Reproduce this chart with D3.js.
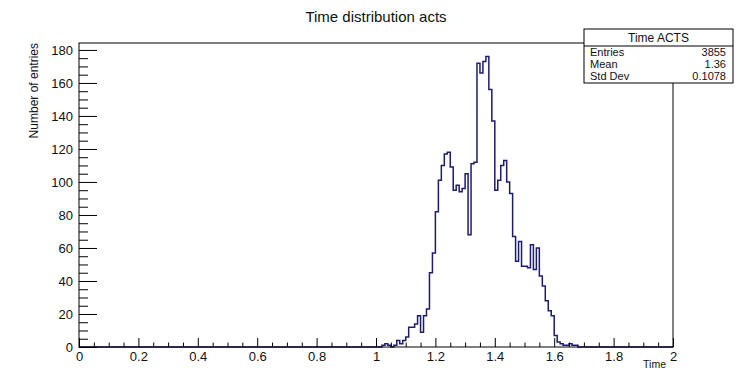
<!DOCTYPE html>
<html>
<head>
<meta charset="utf-8">
<script src="https://cdn.jsdelivr.net/npm/d3@7/dist/d3.min.js"></script>
<style>
  html, body { margin: 0; padding: 0; background: #ffffff; }
  svg { display: block; font-family: "Liberation Sans", Arial, sans-serif; }
</style>
</head>
<body>
<svg id="chart" width="741" height="370"></svg>
<script>
// ---- Data ----
const binStart = 1.00;     // first listed bin low edge
const binWidth = 0.01;
const counts = [0, 0, 1, 2, 1, 0, 1, 4, 2, 4,
                6, 12, 12, 14, 19, 9, 19, 23, 45, 57,
                82, 101, 110, 117, 118, 109, 95, 98, 94, 96,
                105, 68, 111, 112, 172, 166, 173, 176, 156, 137,
                95, 101, 110, 113, 100, 93, 67, 52, 64, 49,
                49, 48, 62, 47, 60, 43, 37, 28, 22, 19,
                7, 3, 2, 1, 1, 2, 1, 1, 0];
const xMajorTicks = [0, 0.2, 0.4, 0.6, 0.8, 1, 1.2, 1.4, 1.6, 1.8, 2];
const xTickLabels = ["0", "0.2", "0.4", "0.6", "0.8", "1", "1.2", "1.4", "1.6", "1.8", "2"];
const yMajorTicks = [0, 20, 40, 60, 80, 100, 120, 140, 160, 180];
const statsLabels = ["Entries", "Mean", "Std Dev"];
const statsValues = ["3855", "1.36", "0.1078"];
const title = "Time distribution acts";
const statsTitle = "Time ACTS";
const xTitle = "Time";
const yTitle = "Number of entries";

// ---- Layout ----
const svg = d3.select("#chart");
const fx0 = 79, fx1 = 673, fy0 = 43, fy1 = 347;
const x = d3.scaleLinear().domain([0, 2]).range([fx0, fx1]);
const y = d3.scaleLinear().domain([0, 184.2]).range([fy1, fy0]);

// histogram step path over full range
const bins = [];
const nb = 200;
for (let i = 0; i < nb; i++) {
  const lo = i * binWidth;
  const k = Math.round((lo - binStart) / binWidth);
  const v = (k >= 0 && k < counts.length) ? counts[k] : 0;
  bins.push({lo: lo, hi: lo + binWidth, v: v});
}
let pts = [[x(0), y(0)]];
bins.forEach(b => { pts.push([x(b.lo), y(b.v)]); pts.push([x(b.hi), y(b.v)]); });
pts.push([x(2), y(0)]);
svg.append("path")
  .attr("d", d3.line()(pts))
  .attr("fill", "none")
  .attr("stroke", "#1c1c6c")
  .attr("stroke-width", 1.5)
  .attr("stroke-linejoin", "miter");

// frame
svg.append("rect")
  .attr("x", fx0).attr("y", fy0)
  .attr("width", fx1 - fx0).attr("height", fy1 - fy0)
  .attr("fill", "none").attr("stroke", "#000").attr("stroke-width", 1);

// y axis
const yMinor = d3.range(0, 184, 5).filter(v => v % 20 !== 0);
const yAxisMajor = d3.axisLeft(y).tickValues(yMajorTicks).tickSizeInner(-18).tickSizeOuter(0).tickPadding(24);
const gy = svg.append("g").attr("transform", `translate(${fx0},0)`).call(yAxisMajor);
gy.select(".domain").remove();
gy.selectAll("text").attr("font-size", 13).attr("fill", "#111").attr("font-family", "Liberation Sans, Arial, sans-serif");
gy.selectAll("line").attr("stroke", "#000");
const gyMinor = svg.append("g").attr("transform", `translate(${fx0},0)`)
  .call(d3.axisLeft(y).tickValues(yMinor).tickSizeInner(-9).tickSizeOuter(0).tickFormat(""));
gyMinor.select(".domain").remove();
gyMinor.selectAll("line").attr("stroke", "#000");
gy.selectAll(".tick text").attr("x", -6);

// x axis
const xMinor = d3.range(0, 2.001, 0.05).filter(v => Math.abs(v / 0.2 - Math.round(v / 0.2)) > 1e-6);
const gx = svg.append("g").attr("transform", `translate(0,${fy1})`)
  .call(d3.axisBottom(x).tickValues(xMajorTicks).tickSizeInner(-9).tickSizeOuter(0)
        .tickFormat((d, i) => xTickLabels[i]));
gx.select(".domain").remove();
gx.selectAll("line").attr("stroke", "#000");
gx.selectAll(".tick text").attr("y", 5).attr("font-size", 13).attr("fill", "#111")
  .attr("font-family", "Liberation Sans, Arial, sans-serif");
const gxMinor = svg.append("g").attr("transform", `translate(0,${fy1})`)
  .call(d3.axisBottom(x).tickValues(xMinor).tickSizeInner(-4.5).tickSizeOuter(0).tickFormat(""));
gxMinor.select(".domain").remove();
gxMinor.selectAll("line").attr("stroke", "#000");

// titles
svg.append("text").attr("x", 376).attr("y", 22).attr("text-anchor", "middle")
  .attr("font-size", 15).attr("fill", "#111").text(title);
svg.append("text").attr("x", fx1 - 7).attr("y", 367.5).attr("text-anchor", "end")
  .attr("font-size", 10.5).attr("fill", "#111").text(xTitle);
svg.append("text").attr("transform", `translate(38,${fy0}) rotate(-90)`)
  .attr("text-anchor", "end").attr("font-size", 12).attr("fill", "#111").text(yTitle);

// stats box
const bx0 = 584, bx1 = 733, by0 = 29, by1 = 83, hdr = 46;
svg.append("rect").attr("x", bx0).attr("y", by0).attr("width", bx1 - bx0).attr("height", by1 - by0)
  .attr("fill", "#fff").attr("stroke", "#000").attr("stroke-width", 1);
svg.append("line").attr("x1", bx0).attr("x2", bx1).attr("y1", hdr).attr("y2", hdr)
  .attr("stroke", "#000");
svg.append("text").attr("x", (bx0 + bx1) / 2).attr("y", 41.5).attr("text-anchor", "middle")
  .attr("font-size", 12).attr("fill", "#111").text(statsTitle);
statsLabels.forEach((lab, i) => {
  const yy = 56 + i * 12.2;
  svg.append("text").attr("x", 590).attr("y", yy).attr("font-size", 11).attr("fill", "#111").text(lab);
  svg.append("text").attr("x", 726).attr("y", yy).attr("text-anchor", "end")
    .attr("font-size", 11).attr("fill", "#111").text(statsValues[i]);
});
</script>
</body>
</html>
